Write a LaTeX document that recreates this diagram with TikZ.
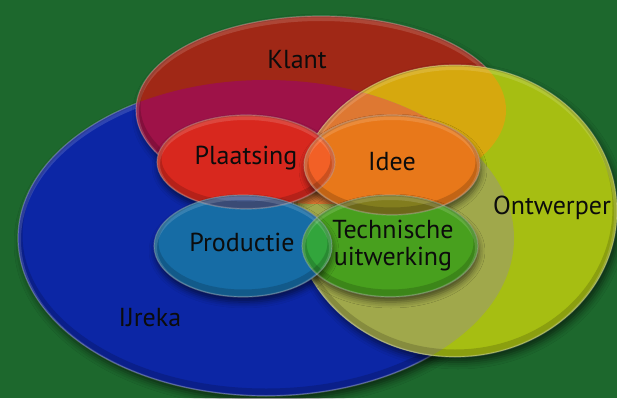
\documentclass[tikz,border=0pt]{standalone}
\usepackage{fontspec}
\setmainfont{PT Sans}
\usetikzlibrary{shadows.blur}
\definecolor{bg}{RGB}{29,104,45}
\definecolor{cKlant}{RGB}{160,40,22}
\definecolor{cIJ}{RGB}{12,38,165}
\definecolor{cOnt}{RGB}{166,190,18}
\definecolor{cKI}{RGB}{158,18,72}
\definecolor{cKO}{RGB}{214,168,14}
\definecolor{cIO}{RGB}{160,168,75}
\definecolor{cKIO}{RGB}{222,120,50}
\definecolor{cPlaats}{RGB}{216,40,30}
\definecolor{cIdee}{RGB}{232,120,26}
\definecolor{cPI}{RGB}{242,96,38}
\definecolor{cProd}{RGB}{22,108,165}
\definecolor{cTech}{RGB}{72,160,30}
\definecolor{cPT}{RGB}{50,165,60}
\definecolor{cIT}{RGB}{130,125,30}
\definecolor{cPP}{RGB}{70,90,140}
\definecolor{ink}{RGB}{12,12,12}
\def\pKlant{(321,110) ellipse [x radius=185pt, y radius=94pt]}
\def\pIJ{(266,238) ellipse [x radius=248pt, y radius=158pt]}
\def\pOnt{(455,211) ellipse [x radius=162pt, y radius=146pt]}
\def\pPlaats{(246,162) ellipse [x radius=89pt, y radius=47pt]}
\def\pIdee{(392,165) ellipse [x radius=88pt, y radius=50pt]}
\def\pProd{(243,246) ellipse [x radius=89pt, y radius=51pt]}
\def\pTech{(390,246) ellipse [x radius=88pt, y radius=51pt]}
\tikzset{
  bigshadow/.style={blur shadow={shadow xshift=3pt, shadow yshift=-5pt, shadow blur radius=7pt, shadow opacity=60}},
  smallshadow/.style={blur shadow={shadow xshift=1pt, shadow yshift=-5pt, shadow blur radius=6pt, shadow opacity=55}},
  rim/.style={draw=white, draw opacity=0.25, line width=1.2pt},
  darkrim/.style={draw=black, draw opacity=0.15, line width=1pt},
  innerdark/.style={draw=black, draw opacity=0.16, line width=9pt},
  innerlight/.style={draw=white, draw opacity=0.14, line width=6pt},
  lbl/.style={text=ink, font=\fontsize{26}{27}\selectfont, align=center, inner sep=0pt}
}
\newcommand{\bevel}[1]{%
  \begin{scope}\clip #1;
    \begin{scope}[yshift=3pt]\path[innerdark] #1;\end{scope}
    \begin{scope}[yshift=-2pt]\path[innerlight] #1;\end{scope}
  \end{scope}}
\begin{document}
\begin{tikzpicture}[x=1pt,y=-1pt]
\useasboundingbox (0,0) rectangle (617,398);
\fill[bg] (0,0) rectangle (617,398);
% big circles
\fill[cIJ, bigshadow] \pIJ;
\bevel{\pIJ}
\path[rim] \pIJ;
\fill[cKlant, bigshadow] \pKlant;
\begin{scope}\clip \pIJ; \fill[cKI] \pKlant; \end{scope}
\bevel{\pKlant}
\path[rim] \pKlant;
\fill[cOnt, bigshadow] \pOnt;
\begin{scope}\clip \pOnt; \fill[cKO] \pKlant; \end{scope}
\begin{scope}\clip \pOnt; \fill[cIO] \pIJ; \end{scope}
\begin{scope}\clip \pOnt; \clip \pKlant; \fill[cKIO] \pIJ; \end{scope}
\bevel{\pOnt}
\path[rim] \pOnt;
% inner ellipses
\fill[cPlaats, smallshadow] \pPlaats;
\fill[cIdee, smallshadow] \pIdee;
\begin{scope}\clip \pPlaats; \fill[cPI] \pIdee; \end{scope}
\fill[cTech, smallshadow] \pTech;
\begin{scope}\clip \pIdee; \fill[cIT] \pTech; \end{scope}
\fill[cProd, smallshadow] \pProd;
\begin{scope}\clip \pPlaats; \fill[cPP] \pProd; \end{scope}
\begin{scope}\clip \pTech; \fill[cPT] \pProd; \end{scope}
\bevel{\pPlaats}\bevel{\pIdee}\bevel{\pProd}\bevel{\pTech}
\path[darkrim] \pPlaats; \path[darkrim] \pIdee; \path[darkrim] \pProd; \path[darkrim] \pTech;
\path[rim] \pPlaats; \path[rim] \pIdee; \path[rim] \pProd; \path[rim] \pTech;
% labels
\node[lbl] (klant) at (297,60) {Klant};
\node[lbl] (plaatsing) at (246,158) {Plaatsing};
\node[lbl] (idee) at (392,162) {Idee};
\node[lbl] (ontwerper) at (552,208) {Ontwerper};
\node[lbl] (productie) at (242,242) {Productie};
\node[lbl] (technische) at (393,246) {Technische\\uitwerking};
\node[lbl] (ijreka) at (150,318) {IJreka};
\end{tikzpicture}
\end{document}
